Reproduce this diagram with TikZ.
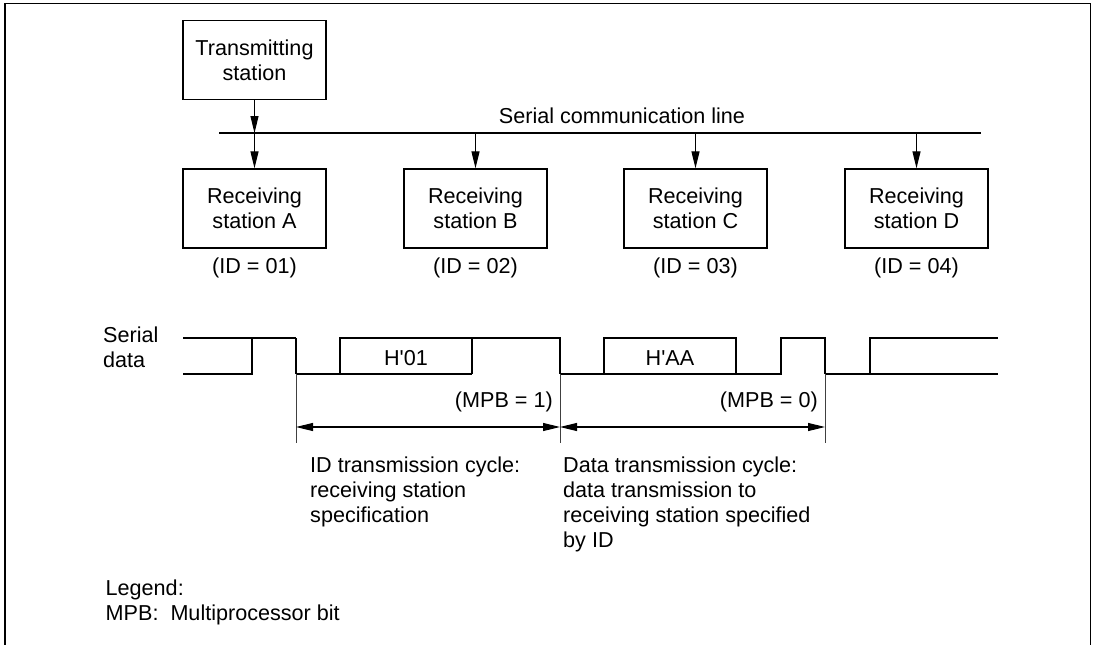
\documentclass[tikz,border=0pt]{standalone}
\usepackage{fontspec}
\setmainfont{Liberation Sans}
\usetikzlibrary{arrows.meta}
\begin{document}
\begin{tikzpicture}[x=1pt,y=-1pt,
  every node/.style={font=\fontsize{21.6}{25}\selectfont, inner sep=0pt},
  station/.style={draw, line width=1.3pt, minimum width=143pt, minimum height=79pt, align=center},
  feed/.style={-{Triangle[length=17pt,width=8pt]}, line width=1.1pt},
  wave/.style={line width=1.2pt},
  ext/.style={line width=0.9pt, black!75},
  dim/.style={{Triangle[length=17pt,width=8pt]}-{Triangle[length=17pt,width=8pt]}, line width=1.1pt},
  lbl/.style={anchor=base},
  para/.style={anchor=north west, align=left}
]
\useasboundingbox (0,0) rectangle (1100,645);
% frame
\draw[line width=1.2pt] (5,645) -- (5,3.5) -- (1090.5,3.5) -- (1090.5,645);

% stations
\node[station] (tx) at (254.5,60) {Transmitting\\station};
\node[station] (ra) at (254.5,208.5) {Receiving\\station A};
\node[station] (rb) at (475.5,208.5) {Receiving\\station B};
\node[station] (rc) at (695.5,208.5) {Receiving\\station C};
\node[station] (rd) at (916.5,208.5) {Receiving\\station D};

% bus line
\coordinate (l0) at (219,133);
\coordinate (l1) at (981,133);
\draw[line width=1.1pt] (l0) -- (l1);
\node[lbl] (slabel) at (622,123) {Serial communication line};

\draw[feed] (tx.south) -- (tx.south |- l0);
\draw[feed] (ra.north |- l0) -- (ra.north);
\draw[feed] (rb.north |- l0) -- (rb.north);
\draw[feed] (rc.north |- l0) -- (rc.north);
\draw[feed] (rd.north |- l0) -- (rd.north);

% IDs
\node[lbl] (ida) at (254.5,273.5) {(ID = 01)};
\node[lbl] (idb) at (475.5,273.5) {(ID = 02)};
\node[lbl] (idc) at (695.5,273.5) {(ID = 03)};
\node[lbl] (idd) at (916.5,273.5) {(ID = 04)};

% serial data label
\node[para] (sd) at (103,326.2) {Serial\\data};

% waveform
\draw[wave] (183,338) -- (296,338);
\draw[wave] (183,374) -- (252,374) -- (252,338);
\draw[wave] (296,338) -- (296,374);
\draw[wave] (296,374) -- (472,374);
\draw[wave] (340,374) -- (340,338) -- (560,338) -- (560,374);
\draw[wave] (472,338) -- (472,374);
\draw[wave] (560,374) -- (781,374) -- (781,338) -- (825,338) -- (825,374);
\draw[wave] (604,374) -- (604,338) -- (736,338) -- (736,374);
\draw[wave] (825,374) -- (998,374);
\draw[wave] (870,374) -- (870,338) -- (998,338);
\node[lbl] (h01) at (406,365) {H\textquotesingle 01};
\node[lbl] (haa) at (670,365) {H\textquotesingle AA};

% extension lines
\draw[ext] (296,374) -- (296,443);
\draw[ext] (560,374) -- (560,443);
\draw[ext] (825,374) -- (825,443);

% MPB labels
\node[anchor=base east] (mpb1) at (553,407.5) {(MPB = 1)};
\node[anchor=base east] (mpb0) at (818,407.5) {(MPB = 0)};

% dimension arrows
\coordinate (d0) at (296,427);
\coordinate (d1) at (560,427);
\coordinate (d2) at (825,427);
\draw[dim] (d0) -- (d1);
\draw[dim] (d1) -- (d2);

% cycle descriptions
\node[para] (idcyc) at (310,456.8) {ID transmission cycle:\\receiving station\\specification};
\node[para] (dtcyc) at (563,456.8) {Data transmission cycle:\\data transmission to\\receiving station specified\\by ID};

% legend
\node[para] (legend) at (105.5,579.5) {Legend:\\MPB:\ \ Multiprocessor bit};
\end{tikzpicture}
\end{document}
